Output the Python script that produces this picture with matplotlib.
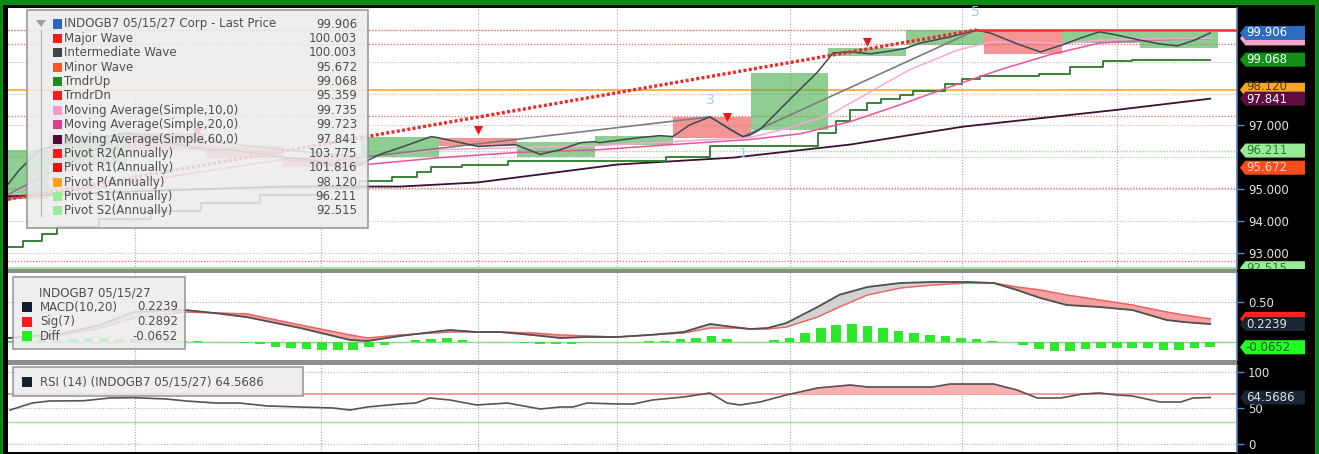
import matplotlib
matplotlib.use('Agg')
import matplotlib.pyplot as plt
import numpy as np
from matplotlib.patches import Rectangle, Polygon
from matplotlib.transforms import blended_transform_factory, Bbox, TransformedBbox, offset_copy

W, H = 1319, 454

# ---------------- data (x = weeks) ----------------
price_t = [-0.16, 0.6, 1.9, 3.2, 5.1, 7.5, 9.0, 12.5, 14.1, 17.5, 19.2, 21.2, 22.4, 23.7, 25.0, 27.0, 27.4, 30.0,
           32.4, 34.0, 35.3, 36.6, 37.5, 37.8, 40.4, 41.7, 42.5, 43.6, 44.9, 46.2, 47.0, 47.5, 48.1, 50.0, 51.8,
           52.8, 53.9, 55.2, 56.5, 57.5, 58.4, 60.3, 62.0, 62.9, 64.8, 66.1, 67.5, 68.7, 69.9, 71.0, 72.5, 73.8,
           74.9, 76.0, 77.0]
price_v = [95.15, 95.62, 96.24, 96.40, 96.56, 96.77, 96.56, 96.24, 96.24, 95.99, 95.93, 95.68, 95.77, 96.09, 96.30,
           96.65, 96.62, 96.34, 96.40, 96.09, 96.24, 96.46, 96.49, 96.46, 96.62, 96.68, 96.65, 97.02, 97.27, 96.87,
           96.65, 96.71, 96.87, 97.81, 98.68, 99.28, 99.31, 99.25, 99.34, 99.43, 99.59, 99.78, 100.00, 99.90, 99.53,
           99.31, 99.53, 99.75, 99.94, 99.84, 99.68, 99.56, 99.50, 99.68, 99.906]

ma10_t = [-0.16, 5.7, 12.2, 17.5, 22.8, 27.6, 32.5, 37.8, 42.5, 47.5, 50.0, 52.6, 55.2, 57.7, 60.8, 62.9, 65.4,
          67.5, 69.9, 73.1, 77.0]
ma10_v = [94.83, 95.93, 96.40, 96.24, 96.02, 96.24, 96.30, 96.37, 96.49, 96.62, 96.93, 97.34, 98.06, 98.75, 99.37,
          99.62, 99.62, 99.56, 99.68, 99.72, 99.735]

ma20_t = [-0.16, 9.0, 17.5, 22.8, 27.6, 32.5, 37.8, 42.5, 47.5, 50.7, 53.9, 57.1, 60.1, 63.5, 66.7, 69.9, 73.1, 77.0]
ma20_v = [94.68, 95.30, 95.93, 95.77, 95.99, 96.15, 96.24, 96.40, 96.56, 96.74, 97.12, 97.65, 98.18, 98.75, 99.22,
          99.59, 99.68, 99.723]

ma60_t = [-0.16, 8.0, 17.5, 25.0, 30.0, 38.9, 46.4, 53.9, 61.1, 71.0, 77.0]
ma60_v = [94.77, 94.93, 95.08, 95.08, 95.21, 95.77, 95.99, 96.40, 96.96, 97.49, 97.841]

trnd_t = [-0.16, 0.8, 2.0, 3.0, 5.7, 9.0, 12.2, 16.0, 19.9, 22.4, 24.5, 26.1, 27.0, 29.0, 31.9, 42.1, 44.9, 51.8,
          53.0, 53.9, 55.0, 55.9, 57.1, 57.9, 60.0, 61.1, 62.2, 66.0, 68.0, 70.1, 72.0, 77.0]
trnd_v = [93.17, 93.36, 93.58, 93.80, 94.05, 94.30, 94.55, 94.80, 95.05, 95.24, 95.37, 95.55, 95.71, 95.77, 95.87,
          96.02, 96.37, 96.77, 97.15, 97.49, 97.71, 97.84, 97.96, 98.09, 98.31, 98.46, 98.56, 98.62, 98.84, 99.03,
          99.068, 99.068]

inter_t = [-0.16, 7.5, 22.4, 44.9, 47.0, 62.0]
inter_v = [94.83, 96.77, 95.99, 97.27, 96.65, 100.003]

major_t = [-0.16, 62.0]
major_v = [94.68, 100.003]

box_t = [0, 5, 10, 15, 20, 25, 30, 35, 40, 45, 50, 55, 60, 65, 70, 75]
box_open = [94.68, 95.77, 96.77, 96.34, 96.02, 96.02, 96.62, 96.02, 96.40, 97.27, 96.87, 99.18, 99.53, 100.00, 99.59, 99.43]
box_close = [96.24, 96.71, 96.24, 95.99, 95.68, 96.65, 96.34, 96.49, 96.68, 96.62, 98.65, 99.43, 100.00, 99.25, 99.94, 99.94]

tri_t = [12.0, 30.0, 46.0, 55.0]
tri_v = [96.80, 96.87, 97.27, 99.62]

wave_t = [44.9, 47.0, 61.9]
wave_v = [97.81, 96.09, 100.56]
wave_txt = ['3', '1', '5']

red_levels = [100.00, 99.56, 97.31, 95.02, 92.74]
grid_levels = [93, 94, 95, 96, 97, 98, 99, 100]
pivot_p, pivot_s1, pivot_s2 = 98.120, 96.211, 92.515
vgrid_t = [8.0, 19.9, 30.0, 38.9, 50.0, 61.1, 71.0]

macd_t = [-0.16, 3.2, 5.7, 7.9, 11.2, 13.2, 15.2, 18.6, 21.8, 22.9, 25.0, 27.1, 28.2, 29.9, 31.4, 33.5, 35.3, 37.0,
          38.9, 41.0, 43.2, 44.9, 46.4, 47.5, 48.6, 49.8, 51.8, 53.2, 55.0, 57.1, 59.2, 61.4, 63.1, 64.6, 66.1, 67.8,
          69.9, 72.0, 74.2, 75.3, 77.0]
macd_v = [0.05, 0.10, 0.21, 0.375, 0.40, 0.36, 0.31, 0.175, 0.025, 0.0125, 0.075, 0.125, 0.15, 0.125, 0.125, 0.0875,
          0.05, 0.0625, 0.0625, 0.0875, 0.125, 0.225, 0.1875, 0.1625, 0.175, 0.2375, 0.4375, 0.59, 0.6875, 0.7375,
          0.75, 0.75, 0.7375, 0.65, 0.55, 0.4625, 0.4375, 0.40, 0.275, 0.25, 0.2239]
sig_v = [0.05, 0.08, 0.17, 0.30, 0.375, 0.3625, 0.35, 0.2125, 0.0875, 0.05, 0.0875, 0.1125, 0.125, 0.125, 0.125,
         0.1125, 0.0875, 0.075, 0.0625, 0.0875, 0.1125, 0.175, 0.175, 0.1625, 0.1625, 0.1875, 0.3125, 0.4375, 0.5875,
         0.675, 0.7125, 0.7375, 0.7375, 0.6875, 0.65, 0.5875, 0.525, 0.4625, 0.375, 0.3375, 0.2892]
diff_t = list(range(78))
diff_v = [0.01, 0.02, 0.02, 0.03, 0.04, 0.05, 0.05, 0.04, 0.04, 0.03, 0.02, 0.015, 0.01, 0.0, -0.005, -0.01, -0.03,
          -0.06, -0.075, -0.0875, -0.1, -0.1, -0.1, -0.0625, -0.0375, -0.005, 0.02, 0.0375, 0.05, 0.025, 0.005, 0.0,
          -0.005, -0.015, -0.03, -0.03, -0.03, -0.005, 0.0, 0.0, 0.005, 0.01, 0.015, 0.0375, 0.05, 0.075, 0.0375,
          0.005, 0.005, 0.02, 0.05, 0.11, 0.175, 0.21, 0.225, 0.2, 0.175, 0.1375, 0.1125, 0.0875, 0.075, 0.05, 0.0375,
          0.0125, 0.0, -0.0375, -0.0875, -0.1125, -0.1125, -0.0875, -0.075, -0.075, -0.075, -0.075, -0.1, -0.1,
          -0.075, -0.0652]

rsi_t = [-0.03, 1.4, 2.5, 4.7, 6.4, 7.9, 10.0, 11.3, 13.2, 14.7, 16.5, 18.6, 20.7, 21.8, 22.9, 25.0, 26.0, 26.9, 28.2,
         29.9, 31.9, 34.0, 35.3, 36.1, 37.0, 38.9, 40.0, 41.2, 43.2, 44.9, 46.0, 46.8, 48.1, 49.8, 51.8, 53.9, 55.0,
         57.1, 59.2, 60.3, 63.1, 64.6, 65.9, 67.4, 68.8, 69.9, 71.0, 72.0, 73.8, 75.1, 75.9, 77.0]
rsi_v = [47.2, 56.9, 59.7, 60.1, 63.9, 64.3, 62.5, 59.7, 56.9, 56.9, 52.8, 51.4, 50.0, 47.2, 51.4, 55.6, 56.9, 63.9,
         61.1, 54.2, 56.9, 48.6, 51.4, 51.4, 56.9, 55.6, 55.6, 61.1, 65.3, 70.8, 56.9, 54.2, 58.3, 68.1, 77.8, 81.9,
         79.2, 79.2, 79.2, 83.3, 83.3, 75.0, 63.9, 63.9, 69.4, 70.8, 68.1, 66.7, 58.3, 58.3, 63.9, 64.5686]

legend_labels = ['INDOGB7 05/15/27 Corp - Last Price', 'Major Wave', 'Intermediate Wave', 'Minor Wave', 'TrndrUp',
                 'TrndrDn', 'Moving Average(Simple,10,0)', 'Moving Average(Simple,20,0)',
                 'Moving Average(Simple,60,0)', 'Pivot R2(Annually)', 'Pivot R1(Annually)', 'Pivot P(Annually)',
                 'Pivot S1(Annually)', 'Pivot S2(Annually)']
legend_values = ['99.906', '100.003', '100.003', '95.672', '99.068', '95.359', '99.735', '99.723', '97.841',
                 '103.775', '101.816', '98.120', '96.211', '92.515']
legend_colors = ['#2a66c4', '#ff1a1a', '#444444', '#ff5522', '#1c8c1c', '#ff1a1a', '#f29ad0', '#e0408a',
                 '#4e0a32', '#ff1a1a', '#ee1010', '#ffa020', '#98ec98', '#98ec98']

# ---------------- figure ----------------
fig = plt.figure(figsize=(W / 100, H / 100), dpi=100, facecolor='black')
FT = fig.transFigure


def rect(x0, y0, x1, y1):
    return [x0 / W, 1 - y1 / H, (x1 - x0) / W, (y1 - y0) / H]


def fpt(x, y):
    return (x / W, 1 - y / H)


ax = fig.add_axes(rect(8, 8, 1237, 269))
axm = fig.add_axes(rect(8, 273, 1237, 360))
axr = fig.add_axes(rect(8, 365, 1237, 452))

XL = (-0.16, 78.72)
ax.set_ylim(92.49, 100.69)
axm.set_ylim(-0.225, 0.8625)
axr.set_ylim(-11.11, 109.72)

for a in (ax, axm, axr):
    a.set_xlim(*XL)
    a.set_facecolor('white')
    for s in ('top', 'left', 'bottom'):
        a.spines[s].set_visible(False)
    a.spines['right'].set_color('#4f7fb4')
    a.spines['right'].set_linewidth(1.2)
    a.yaxis.tick_right()
    a.tick_params(axis='x', bottom=False, labelbottom=False)
    a.tick_params(axis='y', direction='out', length=5, width=1, color='#5b8cc0',
                  labelcolor='#e4e4e4', labelsize=8.5, pad=3)
    for t in vgrid_t:
        a.axvline(t, color='#a4a4a4', ls=(0, (1, 1.5)), lw=0.8, zorder=1)

# ---- main panel ----
for v in grid_levels:
    ax.axhline(v, color='#b8b8b8', ls=(0, (1, 1.5)), lw=0.8, zorder=1)
for v in red_levels:
    ax.axhline(v, color='#f07a7a', ls=(0, (1, 1.2)), lw=1.0, zorder=1)
ax.axhline(pivot_p, color='#ffa630', lw=1.2, zorder=1)
ax.axhline(pivot_s1, color='#8ee08e', ls=(0, (1, 1.2)), lw=1.0, zorder=1)
ax.axhline(pivot_s2, color='#98e898', lw=2.0, zorder=1)

bo = np.array(box_open)
bc = np.array(box_close)
bcol = ['#4caf50' if c > o else '#ee5555' for o, c in zip(bo, bc)]
ax.bar(box_t, bc - bo, bottom=bo, width=5, color=bcol, alpha=0.62, linewidth=0, zorder=2)

ax.plot(ma60_t, ma60_v, color='#3a1030', lw=1.3, zorder=3)
ax.plot(trnd_t, trnd_v, color='#2a7a2a', lw=1.3, drawstyle='steps-post', zorder=3)
ax.plot(ma20_t, ma20_v, color='#e8559a', lw=1.1, zorder=3)
ax.plot(ma10_t, ma10_v, color='#f5a8d5', lw=1.1, zorder=3)
ax.plot(inter_t, inter_v, color='#7c7c7c', lw=1.2, zorder=3)
ax.plot(price_t, price_v, color='#3c4a52', lw=1.1, zorder=4)
ax.plot(major_t, major_v, color='#e82a2a', lw=2.4, ls=(0, (0.9, 0.7)), zorder=4)
ax.hlines(major_v[-1], major_t[-1], XL[1], color='#f03030', lw=1.8, zorder=4)
ax.scatter(tri_t, tri_v, marker='v', s=42, color='#e81818', zorder=6, linewidths=0)
for t, v, s in zip(wave_t, wave_v, wave_txt):
    ax.text(t, v, s, color='#a6cbe8', fontsize=10, ha='center', va='center', zorder=6)

ax.set_yticks([97, 95, 94, 93])
ax.set_yticklabels(['%.3f' % v for v in [97, 95, 94, 93]])

# ---- MACD panel ----
axm.axhline(0.5, color='#b0b0b0', ls=(0, (1, 1.5)), lw=0.8, zorder=1)
axm.axhline(0.0, color='#7ee07e', lw=1.0, zorder=1)
axm.bar(diff_t, diff_v, width=0.62, color='#2ee82e', linewidth=0, zorder=2)
mv = np.array(macd_v)
sv = np.array(sig_v)
axm.fill_between(macd_t, mv, sv, where=mv >= sv, interpolate=True, color='#d2d2d2', zorder=2)
axm.fill_between(macd_t, mv, sv, where=mv < sv, interpolate=True, color='#f4a0a0', zorder=2)
axm.plot(macd_t, sig_v, color='#f06060', lw=1.0, zorder=3)
axm.plot(macd_t, macd_v, color='#505050', lw=1.3, zorder=3)
axm.set_yticks([0.5])
axm.set_yticklabels(['0.50'])

# ---- RSI panel ----
for v in (0, 50, 100):
    axr.axhline(v, color='#b0b0b0', ls=(0, (1, 1.5)), lw=0.8, zorder=1)
axr.axhline(70, color='#f08a8a', lw=1.2, zorder=1)
axr.axhline(30, color='#9be89b', lw=1.0, zorder=1)
rv = np.array(rsi_v)
axr.fill_between(rsi_t, rv, 70, where=rv > 70, interpolate=True, color='#f6b0b0', zorder=2)
axr.plot(rsi_t, rsi_v, color='#555555', lw=1.2, zorder=3)
axr.set_yticks([100, 50, 0])
axr.set_yticklabels(['100', '50', '0'])


# ---- right axis value tags ----
def tag(a, v, s, fc, tc, text_dy=0.0):
    y0, y1 = a.get_ylim()
    ppu = a.bbox.height / (y1 - y0)
    hh = 7.0 / ppu
    tr = blended_transform_factory(a.transAxes, a.transData)
    x0, xn, x1 = 1.0024, 1.0068, 1.0553
    clipbox = TransformedBbox(Bbox([[0, 0], [1.2, 1]]), a.transAxes)
    p = Polygon([(x0, v), (xn, v + hh), (x1, v + hh), (x1, v - hh), (xn, v - hh)], closed=True,
                transform=tr, fc=fc, ec='none', zorder=6)
    a.add_patch(p)
    p.set_clip_box(clipbox)
    ttr = offset_copy(tr, fig=fig, x=0, y=text_dy, units='dots')
    txt = a.text(1.0072, v, s, transform=ttr, color=tc, fontsize=8.5, va='center', ha='left', zorder=7)
    txt.set_clip_box(clipbox)
    txt.set_clip_on(True)


tag(ax, 99.735, '', '#f4a2d0', '#ffffff')
tag(ax, 99.906, '99.906', '#2d6cc0', '#ffffff')
tag(ax, 99.068, '99.068', '#12901a', '#ffffff')
tag(ax, 98.120, '98.120', '#f5a623', '#5a3a00', text_dy=3.5)
tag(ax, 97.841, '97.841', '#5c0c40', '#ffffff', text_dy=-1.0)
tag(ax, 96.211, '96.211', '#98ec98', '#2a7a2a')
tag(ax, 95.672, '95.672', '#ff4a1a', '#ffd6d6')
tag(ax, 92.515, '92.515', '#98ec98', '#2a7a2a')
tag(axm, 0.2892, '', '#ff2020', '#ffffff')
tag(axm, 0.2239, '0.2239', '#1a2636', '#e0e0e0')
tag(axm, -0.0652, '-0.0652', '#22ff22', '#0a5a0a')
tag(axr, 64.5686, '64.5686', '#1a2636', '#e0e0e0')

# ---- frame: separators and green border ----
fig.add_artist(Rectangle(fpt(8, 273), 1229 / W, 4 / H, transform=FT, fc='#8c8c8c', ec='none', zorder=1))
fig.add_artist(Rectangle(fpt(8, 365), 1229 / W, 5 / H, transform=FT, fc='#8c8c8c', ec='none', zorder=1))
fig.add_artist(Rectangle(fpt(0, 5), 1, 5 / H, transform=FT, fc='#0c8a14', ec='none', zorder=1))
fig.add_artist(Rectangle(fpt(0, H), 3 / W, 1, transform=FT, fc='#0c8a14', ec='none', zorder=1))
fig.add_artist(Rectangle(fpt(1315, H), 4 / W, 1, transform=FT, fc='#0c8a14', ec='none', zorder=1))

# ---- legends ----
LFC, LEC, LTC = '#ececec', '#8c8c8c', '#4e4e4e'


def legend_box(x0, y0, x1, y1):
    fig.add_artist(Rectangle(fpt(x0, y1), (x1 - x0) / W, (y1 - y0) / H, transform=FT,
                             fc=LFC, ec=LEC, lw=1.2, alpha=0.86, zorder=8))


def swatch(x0, yc, color, size=9):
    fig.add_artist(Rectangle(fpt(x0, yc + size / 2), size / W, size / H, transform=FT,
                             fc=color, ec='none', zorder=9))


legend_box(27, 10, 368, 228)
fig.add_artist(Polygon([fpt(36, 20), fpt(46, 20), fpt(41, 27)], closed=True, transform=FT,
                       fc='#a0a0a0', ec='none', zorder=9))
fig.add_artist(plt.Line2D([41 / W, 41 / W], [1 - 30 / H, 1 - 216 / H], transform=FT, color='#b0b0b0', lw=0.8,
                          zorder=9))
for i, (lab, val, col) in enumerate(zip(legend_labels, legend_values, legend_colors)):
    yc = 24 + 14.38 * i
    swatch(53, yc, col)
    fig.text(*fpt(64, yc), lab, fontsize=8.5, color=LTC, va='center', ha='left', zorder=10)
    fig.text(*fpt(357, yc), val, fontsize=8.5, color=LTC, va='center', ha='right', zorder=10)

legend_box(13, 277, 185, 349)
fig.text(*fpt(39, 293), 'INDOGB7 05/15/27', fontsize=8.5, color=LTC, va='center', ha='left', zorder=10)
macd_leg = [('MACD(10,20)', '0.2239', '#14202e'), ('Sig(7)', '0.2892', '#ff1a1a'), ('Diff', '-0.0652', '#22ee22')]
for i, (lab, val, col) in enumerate(macd_leg):
    yc = 307 + 14.5 * i
    swatch(22, yc, col, 10)
    fig.text(*fpt(40, yc), lab, fontsize=8.5, color=LTC, va='center', ha='left', zorder=10)
    fig.text(*fpt(178, yc), val, fontsize=8.5, color=LTC, va='center', ha='right', zorder=10)

legend_box(13, 367, 303, 396)
swatch(22, 382, '#14202e', 10)
fig.text(*fpt(40, 382), 'RSI (14) (INDOGB7 05/15/27) 64.5686', fontsize=8.5, color=LTC, va='center', ha='left',
         zorder=10)

fig.savefig('out.png', dpi=100, facecolor=fig.get_facecolor())
